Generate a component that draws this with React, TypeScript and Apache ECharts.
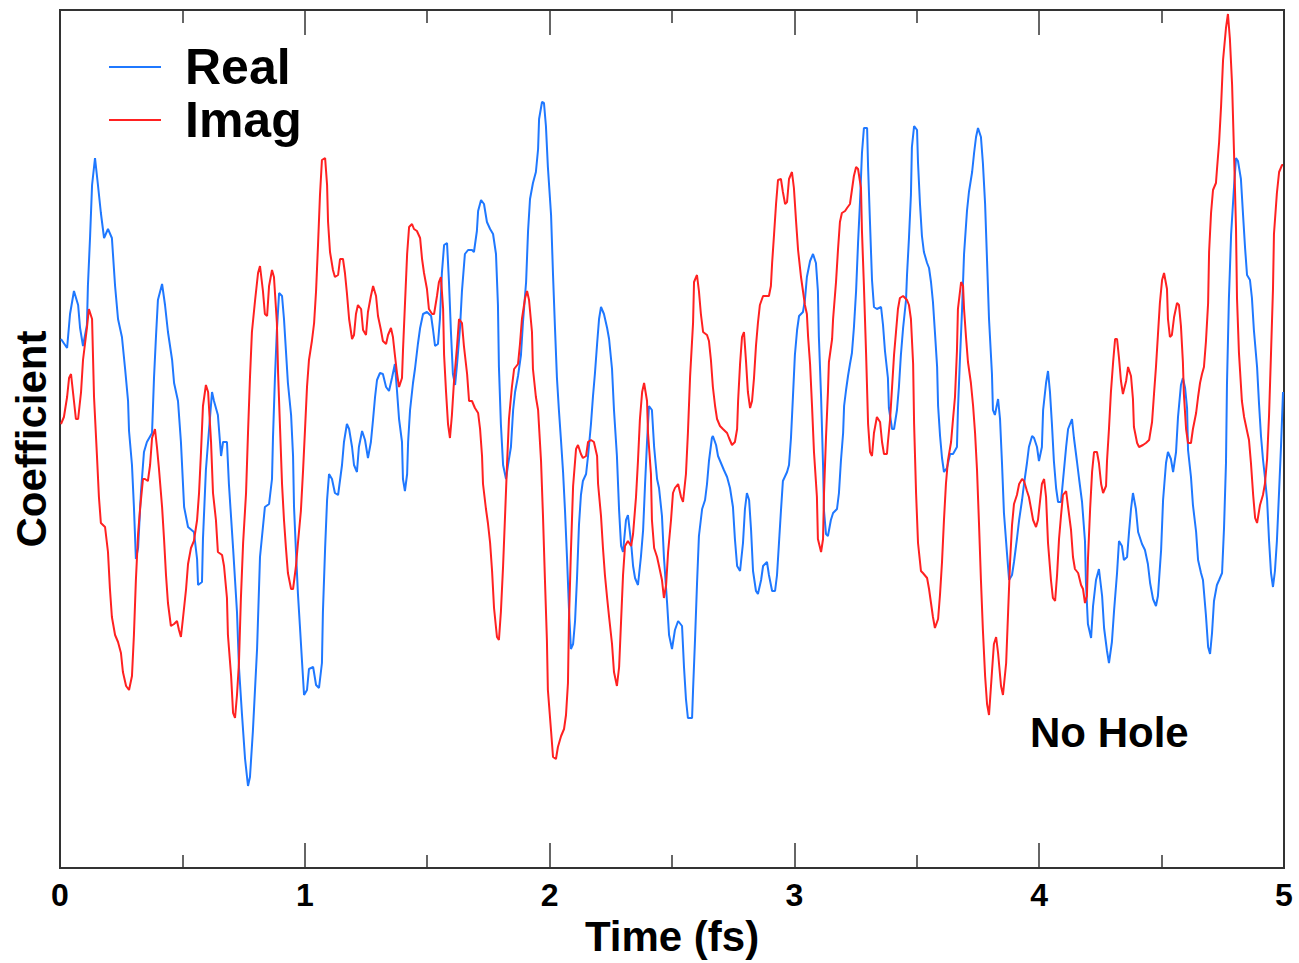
import React, { useEffect, useRef } from "react";
import * as echarts from "echarts";

// Time (fs), coefficient (arbitrary units)
const realPoints: [number, number][] = [
  [0.004,1.01],[0.029,0.92],[0.041,1.26],[0.057,1.49],[0.074,1.35],[0.082,1.12],[0.094,0.94],[0.110,1.15],[0.114,1.54],[0.123,2.04],
  [0.131,2.55],[0.143,2.82],[0.155,2.55],[0.167,2.27],[0.180,2.02],[0.196,2.11],[0.212,2.02],[0.225,1.54],[0.237,1.21],[0.253,1.03],
  [0.266,0.71],[0.278,0.39],[0.282,0.09],[0.294,-0.25],[0.302,-0.67],[0.310,-1.19],[0.319,-1.08],[0.331,-0.51],[0.343,-0.12],[0.355,-0.02],
  [0.376,0.07],[0.384,0.62],[0.392,1.03],[0.400,1.40],[0.417,1.56],[0.429,1.35],[0.441,1.08],[0.458,0.80],[0.466,0.57],[0.482,0.39],
  [0.494,-0.02],[0.507,-0.67],[0.523,-0.87],[0.547,-0.92],[0.560,-1.19],[0.564,-1.45],[0.580,-1.42],[0.584,-0.99],[0.596,-0.30],[0.609,0.11],
  [0.621,0.48],[0.629,0.39],[0.645,0.25],[0.658,-0.16],[0.666,-0.02],[0.682,-0.02],[0.690,-0.44],[0.707,-1.08],[0.723,-1.72],[0.731,-2.27],
  [0.743,-2.73],[0.756,-3.19],[0.768,-3.46],[0.776,-3.37],[0.788,-2.91],[0.805,-2.09],[0.817,-1.17],[0.837,-0.67],[0.854,-0.64],[0.866,-0.39],
  [0.870,0.02],[0.878,0.62],[0.886,1.10],[0.895,1.47],[0.907,1.44],[0.915,1.21],[0.923,0.89],[0.931,0.57],[0.944,0.25],[0.952,-0.16],
  [0.956,-0.67],[0.964,-1.12],[0.972,-1.54],[0.980,-1.86],[0.989,-2.23],[0.997,-2.55],[1.009,-2.50],[1.017,-2.29],[1.034,-2.27],[1.046,-2.45],
  [1.058,-2.48],[1.070,-2.23],[1.074,-1.72],[1.083,-1.08],[1.091,-0.60],[1.099,-0.34],[1.111,-0.39],[1.123,-0.53],[1.136,-0.55],[1.152,-0.25],
  [1.160,-0.02],[1.172,0.16],[1.181,0.11],[1.193,-0.07],[1.201,-0.25],[1.213,-0.32],[1.221,-0.07],[1.234,0.09],[1.246,0.00],[1.258,-0.18],
  [1.270,-0.02],[1.279,0.21],[1.287,0.43],[1.295,0.60],[1.307,0.67],[1.319,0.66],[1.332,0.53],[1.344,0.49],[1.356,0.62],[1.368,0.76],
  [1.377,0.48],[1.385,0.21],[1.397,-0.02],[1.401,-0.39],[1.409,-0.51],[1.418,-0.34],[1.422,-0.02],[1.430,0.30],[1.442,0.57],[1.450,0.71],
  [1.462,0.96],[1.471,1.12],[1.483,1.26],[1.499,1.28],[1.516,1.24],[1.524,1.10],[1.532,0.94],[1.544,0.96],[1.552,1.21],[1.560,1.67],
  [1.569,1.95],[1.581,1.97],[1.589,1.58],[1.597,1.08],[1.605,0.66],[1.614,0.55],[1.622,0.76],[1.634,1.12],[1.642,1.49],[1.654,1.86],
  [1.667,1.90],[1.683,1.90],[1.691,1.88],[1.703,2.09],[1.708,2.29],[1.720,2.40],[1.732,2.36],[1.744,2.18],[1.757,2.11],[1.769,2.06],
  [1.781,1.86],[1.789,1.35],[1.793,0.73],[1.801,0.16],[1.810,-0.25],[1.822,-0.39],[1.830,-0.25],[1.842,-0.07],[1.851,0.30],[1.859,0.48],
  [1.871,0.64],[1.883,0.85],[1.891,1.17],[1.904,1.58],[1.912,2.09],[1.920,2.41],[1.932,2.57],[1.944,2.68],[1.953,2.91],[1.957,3.21],
  [1.969,3.38],[1.977,3.37],[1.985,3.14],[1.993,2.73],[2.006,2.25],[2.014,1.65],[2.022,1.12],[2.030,0.62],[2.038,0.30],[2.047,-0.02],
  [2.055,-0.32],[2.063,-0.71],[2.071,-1.17],[2.079,-1.68],[2.087,-2.09],[2.096,-2.04],[2.104,-1.81],[2.112,-1.38],[2.120,-0.85],[2.128,-0.55],
  [2.136,-0.41],[2.149,-0.34],[2.157,-0.16],[2.169,0.16],[2.177,0.43],[2.185,0.66],[2.194,0.96],[2.202,1.21],[2.210,1.33],[2.222,1.26],
  [2.235,1.12],[2.243,1.01],[2.255,0.71],[2.263,0.30],[2.275,-0.16],[2.284,-0.71],[2.292,-1.06],[2.300,-1.12],[2.312,-0.80],[2.320,-0.75],
  [2.333,-1.03],[2.341,-1.26],[2.349,-1.38],[2.361,-1.45],[2.373,-1.17],[2.382,-0.90],[2.390,-0.44],[2.398,-0.02],[2.406,0.34],[2.418,0.30],
  [2.427,-0.07],[2.439,-0.39],[2.447,-0.48],[2.459,-0.76],[2.467,-1.17],[2.480,-1.63],[2.488,-1.95],[2.500,-2.09],[2.512,-1.90],[2.525,-1.81],
  [2.541,-1.86],[2.549,-2.27],[2.557,-2.59],[2.565,-2.78],[2.582,-2.78],[2.586,-2.50],[2.594,-2.00],[2.602,-1.45],[2.610,-0.96],[2.623,-0.69],
  [2.635,-0.60],[2.643,-0.44],[2.651,-0.21],[2.663,0.02],[2.667,0.04],[2.680,-0.05],[2.688,-0.16],[2.700,-0.23],[2.712,-0.30],[2.725,-0.37],
  [2.737,-0.48],[2.749,-0.67],[2.757,-0.99],[2.766,-1.26],[2.778,-1.31],[2.790,-1.03],[2.798,-0.69],[2.806,-0.53],[2.815,-0.60],[2.823,-0.90],
  [2.831,-1.31],[2.843,-1.51],[2.851,-1.54],[2.864,-1.40],[2.872,-1.26],[2.888,-1.22],[2.896,-1.35],[2.909,-1.51],[2.921,-1.51],[2.929,-1.35],
  [2.937,-1.03],[2.945,-0.71],[2.953,-0.41],[2.970,-0.32],[2.978,-0.25],[2.986,0.02],[2.994,0.43],[3.002,0.85],[3.011,1.10],[3.019,1.24],
  [3.035,1.28],[3.043,1.40],[3.051,1.63],[3.064,1.79],[3.076,1.86],[3.088,1.77],[3.096,1.49],[3.100,1.03],[3.109,0.43],[3.117,-0.25],
  [3.121,-0.71],[3.129,-0.94],[3.137,-0.96],[3.149,-0.80],[3.158,-0.73],[3.174,-0.69],[3.182,-0.53],[3.190,-0.21],[3.199,0.07],[3.203,0.34],
  [3.211,0.50],[3.219,0.64],[3.227,0.76],[3.235,0.87],[3.243,1.12],[3.252,1.49],[3.260,1.97],[3.268,2.38],[3.276,2.87],[3.284,3.12],
  [3.297,3.12],[3.301,2.73],[3.309,2.16],[3.317,1.60],[3.325,1.33],[3.337,1.31],[3.354,1.33],[3.362,1.15],[3.370,0.89],[3.382,0.62],
  [3.386,0.32],[3.399,0.11],[3.407,0.11],[3.419,0.30],[3.427,0.53],[3.435,0.85],[3.444,1.12],[3.456,1.40],[3.460,1.65],[3.468,2.02],
  [3.476,2.45],[3.480,2.93],[3.489,3.14],[3.501,3.10],[3.505,2.77],[3.513,2.36],[3.521,2.04],[3.529,1.88],[3.542,1.77],[3.550,1.72],
  [3.558,1.58],[3.566,1.38],[3.574,1.08],[3.583,0.73],[3.587,0.34],[3.595,0.04],[3.603,-0.18],[3.611,-0.32],[3.623,-0.28],[3.636,-0.14],
  [3.648,-0.14],[3.664,-0.07],[3.668,0.30],[3.677,0.85],[3.685,1.31],[3.693,1.86],[3.705,2.29],[3.713,2.48],[3.726,2.68],[3.734,2.87],
  [3.742,3.03],[3.750,3.12],[3.762,3.03],[3.770,2.77],[3.779,2.36],[3.787,1.79],[3.795,1.21],[3.807,0.66],[3.811,0.30],[3.819,0.25],
  [3.832,0.41],[3.840,0.21],[3.848,-0.23],[3.856,-0.73],[3.868,-1.12],[3.877,-1.40],[3.889,-1.35],[3.897,-1.22],[3.909,-0.99],[3.918,-0.80],
  [3.930,-0.60],[3.938,-0.44],[3.950,-0.23],[3.958,-0.07],[3.971,0.04],[3.979,0.02],[3.991,-0.07],[3.999,-0.21],[4.011,-0.07],[4.016,0.30],
  [4.028,0.57],[4.036,0.69],[4.044,0.48],[4.052,0.16],[4.060,-0.21],[4.069,-0.48],[4.077,-0.62],[4.089,-0.62],[4.097,-0.41],[4.110,-0.07],
  [4.118,0.11],[4.134,0.21],[4.142,0.02],[4.154,-0.21],[4.163,-0.39],[4.175,-0.62],[4.187,-1.01],[4.191,-1.43],[4.199,-1.84],[4.212,-1.98],
  [4.220,-1.66],[4.232,-1.40],[4.244,-1.29],[4.257,-1.56],[4.265,-1.88],[4.277,-2.11],[4.285,-2.23],[4.297,-2.02],[4.306,-1.70],[4.318,-1.33],
  [4.326,-1.01],[4.338,-1.06],[4.346,-1.20],[4.359,-1.17],[4.367,-0.92],[4.375,-0.69],[4.383,-0.53],[4.395,-0.69],[4.404,-0.92],[4.420,-1.04],
  [4.432,-1.10],[4.444,-1.24],[4.453,-1.43],[4.465,-1.59],[4.477,-1.66],[4.485,-1.56],[4.498,-1.10],[4.506,-0.60],[4.518,-0.23],[4.526,-0.12],
  [4.538,-0.19],[4.547,-0.32],[4.559,-0.12],[4.567,0.23],[4.579,0.55],[4.587,0.62],[4.596,0.52],[4.604,0.32],[4.608,-0.10],[4.620,-0.37],
  [4.628,-0.65],[4.641,-0.92],[4.649,-1.20],[4.661,-1.33],[4.669,-1.40],[4.681,-1.75],[4.690,-2.07],[4.698,-2.14],[4.706,-1.93],[4.714,-1.61],
  [4.726,-1.45],[4.735,-1.40],[4.747,-1.33],[4.755,-0.88],[4.763,-0.23],[4.767,0.55],[4.775,1.42],[4.784,2.06],[4.796,2.54],[4.804,2.82],
  [4.812,2.79],[4.824,2.61],[4.833,2.24],[4.841,1.92],[4.849,1.65],[4.861,1.60],[4.869,1.42],[4.877,1.10],[4.890,0.73],[4.898,0.36],
  [4.906,0.04],[4.914,-0.19],[4.922,-0.37],[4.931,-0.60],[4.939,-1.01],[4.947,-1.33],[4.955,-1.47],[4.963,-1.31],[4.971,-1.01],[4.980,-0.51],
  [4.988,-0.05],[4.996,0.48]
];

const imagPoints: [number, number][] = [
  [0.004,0.16],[0.016,0.23],[0.029,0.43],[0.037,0.62],[0.045,0.66],[0.053,0.48],[0.065,0.21],[0.074,0.21],[0.086,0.48],[0.094,0.80],
  [0.110,1.12],[0.118,1.31],[0.131,1.21],[0.139,0.43],[0.151,-0.16],[0.159,-0.57],[0.167,-0.83],[0.184,-0.87],[0.196,-1.12],[0.204,-1.49],
  [0.212,-1.77],[0.225,-1.95],[0.237,-2.02],[0.249,-2.13],[0.257,-2.32],[0.270,-2.46],[0.282,-2.50],[0.294,-2.36],[0.302,-1.95],[0.310,-1.40],
  [0.319,-0.94],[0.327,-0.69],[0.339,-0.39],[0.347,-0.39],[0.359,-0.41],[0.368,-0.25],[0.376,0.02],[0.388,0.11],[0.396,-0.07],[0.404,-0.28],
  [0.417,-0.67],[0.425,-0.99],[0.433,-1.35],[0.441,-1.63],[0.453,-1.86],[0.466,-1.84],[0.478,-1.81],[0.486,-1.90],[0.494,-1.97],[0.502,-1.79],
  [0.515,-1.49],[0.523,-1.24],[0.535,-1.08],[0.547,-1.01],[0.560,-0.80],[0.568,-0.53],[0.576,-0.12],[0.584,0.34],[0.596,0.55],[0.605,0.48],
  [0.617,-0.02],[0.625,-0.53],[0.637,-0.80],[0.645,-1.12],[0.662,-1.15],[0.670,-1.26],[0.682,-1.58],[0.686,-1.95],[0.699,-2.36],[0.707,-2.73],
  [0.715,-2.78],[0.723,-2.55],[0.731,-2.23],[0.739,-1.58],[0.748,-1.03],[0.760,-0.53],[0.768,0.07],[0.776,0.62],[0.784,1.08],[0.797,1.40],
  [0.809,1.67],[0.817,1.74],[0.829,1.49],[0.837,1.26],[0.846,1.24],[0.854,1.54],[0.866,1.70],[0.874,1.63],[0.886,1.17],[0.891,0.66],
  [0.899,0.11],[0.907,-0.44],[0.915,-0.80],[0.923,-1.08],[0.931,-1.33],[0.944,-1.49],[0.952,-1.49],[0.964,-1.26],[0.972,-1.03],[0.984,-0.71],
  [0.993,-0.30],[1.001,0.11],[1.009,0.53],[1.017,0.80],[1.029,0.99],[1.038,1.17],[1.046,1.49],[1.054,1.95],[1.062,2.45],[1.070,2.80],
  [1.083,2.82],[1.091,2.55],[1.095,2.18],[1.103,1.88],[1.115,1.70],[1.123,1.63],[1.136,1.65],[1.144,1.81],[1.156,1.81],[1.164,1.67],
  [1.172,1.47],[1.181,1.21],[1.193,1.01],[1.201,1.05],[1.209,1.26],[1.217,1.35],[1.230,1.31],[1.238,1.10],[1.250,1.05],[1.258,1.28],
  [1.270,1.44],[1.279,1.54],[1.291,1.44],[1.299,1.24],[1.311,1.10],[1.319,0.99],[1.332,0.96],[1.340,1.05],[1.352,1.12],[1.360,1.03],
  [1.368,0.85],[1.377,0.66],[1.385,0.53],[1.397,0.62],[1.401,0.89],[1.409,1.35],[1.418,1.86],[1.426,2.13],[1.438,2.16],[1.446,2.11],
  [1.458,2.09],[1.471,2.02],[1.479,1.81],[1.487,1.67],[1.499,1.51],[1.507,1.31],[1.520,1.26],[1.528,1.26],[1.540,1.44],[1.548,1.58],
  [1.556,1.63],[1.565,1.31],[1.569,0.85],[1.577,0.48],[1.585,0.16],[1.593,0.02],[1.601,0.25],[1.609,0.57],[1.622,0.94],[1.630,1.21],
  [1.642,1.17],[1.650,0.94],[1.663,0.66],[1.671,0.39],[1.683,0.39],[1.695,0.32],[1.708,0.27],[1.716,0.11],[1.724,-0.16],[1.728,-0.44],
  [1.740,-0.69],[1.748,-0.83],[1.757,-1.03],[1.765,-1.31],[1.773,-1.68],[1.785,-1.97],[1.793,-2.00],[1.801,-1.72],[1.810,-1.26],[1.818,-0.76],
  [1.826,-0.25],[1.834,0.21],[1.846,0.53],[1.855,0.71],[1.871,0.76],[1.879,0.96],[1.887,1.21],[1.900,1.42],[1.908,1.49],[1.916,1.40],
  [1.928,1.08],[1.932,0.71],[1.944,0.43],[1.953,0.30],[1.965,-0.21],[1.973,-0.76],[1.981,-1.40],[1.989,-2.00],[1.993,-2.50],[2.006,-2.91],
  [2.014,-3.17],[2.026,-3.19],[2.034,-3.07],[2.047,-2.96],[2.059,-2.89],[2.067,-2.75],[2.075,-2.43],[2.079,-1.81],[2.087,-1.12],[2.096,-0.46],
  [2.108,-0.09],[2.116,-0.05],[2.128,-0.14],[2.136,-0.18],[2.149,-0.16],[2.157,-0.02],[2.169,0.00],[2.181,-0.02],[2.194,-0.16],[2.198,-0.44],
  [2.210,-0.76],[2.218,-1.08],[2.226,-1.35],[2.235,-1.58],[2.243,-1.77],[2.255,-2.04],[2.263,-2.32],[2.275,-2.46],[2.284,-2.27],[2.292,-1.81],
  [2.300,-1.35],[2.308,-1.06],[2.320,-1.01],[2.333,-1.06],[2.341,-0.94],[2.353,-0.57],[2.361,-0.21],[2.369,0.21],[2.378,0.48],[2.386,0.57],
  [2.398,0.39],[2.402,0.07],[2.414,-0.34],[2.418,-0.80],[2.427,-1.08],[2.439,-1.17],[2.447,-1.26],[2.459,-1.40],[2.467,-1.58],[2.476,-1.45],
  [2.484,-1.12],[2.496,-0.80],[2.504,-0.53],[2.512,-0.48],[2.525,-0.44],[2.537,-0.57],[2.545,-0.62],[2.557,-0.34],[2.565,0.07],[2.574,0.64],
  [2.586,1.17],[2.590,1.58],[2.602,1.65],[2.610,1.49],[2.618,1.26],[2.627,1.08],[2.643,1.05],[2.651,0.99],[2.659,0.80],[2.667,0.53],
  [2.676,0.34],[2.684,0.21],[2.696,0.14],[2.708,0.11],[2.725,0.07],[2.733,0.02],[2.745,-0.05],[2.757,-0.02],[2.766,0.11],[2.770,0.39],
  [2.778,0.76],[2.786,1.03],[2.794,1.08],[2.802,0.80],[2.810,0.48],[2.819,0.32],[2.827,0.39],[2.835,0.62],[2.843,0.94],[2.851,1.17],
  [2.859,1.35],[2.872,1.44],[2.884,1.44],[2.896,1.44],[2.904,1.54],[2.909,1.77],[2.917,2.06],[2.925,2.36],[2.933,2.60],[2.945,2.61],
  [2.953,2.48],[2.962,2.36],[2.970,2.38],[2.978,2.61],[2.990,2.68],[2.998,2.52],[3.007,2.18],[3.015,1.90],[3.027,1.63],[3.035,1.49],
  [3.043,1.35],[3.051,1.26],[3.056,1.03],[3.064,0.76],[3.072,0.34],[3.080,-0.12],[3.092,-0.57],[3.096,-0.99],[3.109,-1.12],[3.117,-0.99],
  [3.121,-0.53],[3.129,0.02],[3.137,0.48],[3.141,0.78],[3.154,1.01],[3.158,1.21],[3.170,1.58],[3.178,1.90],[3.186,2.18],[3.194,2.27],
  [3.207,2.29],[3.215,2.32],[3.227,2.36],[3.235,2.50],[3.243,2.64],[3.252,2.73],[3.260,2.71],[3.272,2.52],[3.276,2.09],[3.284,1.54],
  [3.293,0.85],[3.301,0.16],[3.309,-0.12],[3.317,-0.16],[3.325,0.07],[3.337,0.23],[3.350,0.18],[3.358,-0.02],[3.366,-0.14],[3.378,-0.14],
  [3.382,-0.02],[3.391,0.21],[3.399,0.53],[3.407,0.85],[3.415,1.08],[3.423,1.31],[3.431,1.42],[3.444,1.44],[3.460,1.40],[3.468,1.35],
  [3.476,1.21],[3.485,0.76],[3.489,0.16],[3.497,-0.53],[3.505,-1.03],[3.517,-1.31],[3.525,-1.33],[3.542,-1.38],[3.550,-1.49],[3.558,-1.63],
  [3.566,-1.77],[3.574,-1.88],[3.587,-1.79],[3.595,-1.54],[3.603,-1.22],[3.611,-0.80],[3.619,-0.44],[3.627,-0.21],[3.640,-0.02],[3.648,0.21],
  [3.656,0.43],[3.664,0.89],[3.668,1.31],[3.681,1.58],[3.689,1.54],[3.693,1.31],[3.701,1.03],[3.709,0.78],[3.721,0.57],[3.730,0.34],
  [3.738,0.07],[3.746,-0.30],[3.754,-0.83],[3.762,-1.40],[3.770,-1.90],[3.779,-2.36],[3.787,-2.64],[3.795,-2.75],[3.807,-2.32],[3.815,-2.04],
  [3.824,-1.97],[3.832,-2.13],[3.844,-2.46],[3.852,-2.55],[3.865,-2.23],[3.873,-1.72],[3.881,-1.22],[3.889,-0.85],[3.897,-0.64],[3.909,-0.55],
  [3.918,-0.44],[3.930,-0.39],[3.938,-0.41],[3.950,-0.51],[3.958,-0.57],[3.967,-0.69],[3.975,-0.80],[3.987,-0.87],[3.995,-0.80],[4.003,-0.62],
  [4.011,-0.44],[4.020,-0.39],[4.028,-0.57],[4.036,-1.03],[4.048,-1.40],[4.056,-1.58],[4.065,-1.61],[4.073,-1.35],[4.081,-0.99],[4.089,-0.76],
  [4.097,-0.55],[4.110,-0.51],[4.118,-0.67],[4.130,-0.90],[4.138,-1.17],[4.146,-1.29],[4.159,-1.33],[4.171,-1.45],[4.179,-1.49],[4.187,-1.63],
  [4.195,-1.56],[4.199,-1.20],[4.208,-0.69],[4.216,-0.32],[4.224,-0.12],[4.236,-0.12],[4.244,-0.23],[4.253,-0.44],[4.261,-0.53],[4.273,-0.46],
  [4.277,-0.21],[4.285,0.11],[4.293,0.48],[4.302,0.78],[4.310,1.01],[4.318,1.01],[4.326,0.82],[4.334,0.59],[4.342,0.46],[4.355,0.59],
  [4.363,0.73],[4.375,0.64],[4.383,0.41],[4.387,0.13],[4.400,-0.03],[4.408,-0.07],[4.424,-0.05],[4.436,-0.03],[4.449,0.00],[4.461,0.18],
  [4.469,0.46],[4.477,0.73],[4.485,1.05],[4.493,1.37],[4.502,1.60],[4.510,1.67],[4.522,1.51],[4.526,1.21],[4.534,1.03],[4.542,1.05],
  [4.551,1.23],[4.563,1.37],[4.571,1.35],[4.579,1.14],[4.587,0.78],[4.591,0.46],[4.600,0.11],[4.608,-0.03],[4.620,-0.03],[4.628,0.11],
  [4.641,0.27],[4.649,0.43],[4.657,0.57],[4.665,0.66],[4.673,0.73],[4.681,0.98],[4.690,1.37],[4.694,1.88],[4.702,2.27],[4.710,2.50],
  [4.722,2.57],[4.726,2.70],[4.735,2.98],[4.743,3.34],[4.751,3.80],[4.763,4.12],[4.771,4.26],[4.779,4.01],[4.788,3.55],[4.796,2.86],
  [4.804,2.11],[4.808,1.42],[4.816,0.87],[4.828,0.39],[4.837,0.23],[4.849,0.09],[4.857,0.00],[4.865,-0.23],[4.874,-0.55],[4.882,-0.78],
  [4.890,-0.83],[4.902,-0.65],[4.914,-0.55],[4.922,-0.44],[4.931,-0.19],[4.939,0.25],[4.947,0.87],[4.955,1.51],[4.959,2.06],[4.971,2.47],
  [4.980,2.68],[4.992,2.75],[4.996,2.75]
];

const seriesNames = ["Real", "Imag"];
const seriesColors = ["#1f78ff", "#ff2121"];
const xTickLabels = ["0", "1", "2", "3", "4", "5"];
const annotation = "No Hole";

const FONT = "'Liberation Sans', Arial, Helvetica, sans-serif";

export default function App() {
  const ref = useRef<HTMLDivElement>(null);
  useEffect(() => {
    if (!ref.current) return;
    const chart = echarts.init(ref.current, null, { renderer: "svg" });
    const baseX = {
      type: "value" as const,
      min: 0,
      max: 5,
      interval: 1,
      axisLine: { show: false, onZero: false },
      splitLine: { show: false },
      minorSplitLine: { show: false },
      axisTick: { show: true, inside: true, length: 25, lineStyle: { color: "#333", width: 1.5 } },
      minorTick: { show: true, splitNumber: 2, length: 13, lineStyle: { color: "#333", width: 1.5 } },
    };
    chart.setOption({
      animation: false,
      backgroundColor: "#fff",
      grid: {
        left: 60,
        right: 15,
        top: 10,
        bottom: 95,
        show: true,
        borderColor: "#333",
        borderWidth: 2,
        backgroundColor: "transparent",
      },
      legend: {
        orient: "vertical",
        left: 109,
        top: 42,
        padding: 0,
        itemGap: 3,
        itemWidth: 52,
        itemHeight: 2,
        icon: "rect",
        data: seriesNames,
        textStyle: { fontFamily: FONT, fontWeight: "bold", fontSize: 50, color: "#000", padding: [0, 0, 0, 19] },
      },
      xAxis: [
        {
          ...baseX,
          position: "bottom",
          name: "Time (fs)",
          nameLocation: "middle",
          nameGap: 44,
          nameTextStyle: { fontFamily: FONT, fontWeight: "bold", fontSize: 42, color: "#000" },
          axisLabel: {
            show: true,
            margin: 11,
            fontFamily: FONT,
            fontWeight: "bold",
            fontSize: 32,
            color: "#000",
            formatter: (v: number) => xTickLabels[Math.round(v)] ?? "",
          },
        },
        {
          ...baseX,
          position: "top",
          axisLabel: { show: false },
        },
      ],
      yAxis: {
        type: "value",
        min: -4.28,
        max: 4.3,
        axisLine: { show: false, onZero: false },
        axisTick: { show: false },
        axisLabel: { show: false },
        splitLine: { show: false },
        name: "Coefficient",
        nameLocation: "middle",
        nameGap: 8,
        nameRotate: 90,
        nameTextStyle: { fontFamily: FONT, fontWeight: "bold", fontSize: 42, color: "#000" },
      },
      graphic: [
        {
          type: "text",
          left: 1030,
          top: 711,
          style: { text: annotation, fontFamily: FONT, fontWeight: "bold", fontSize: 42, fill: "#000" },
        },
      ],
      series: [
        {
          name: seriesNames[0],
          type: "line",
          data: realPoints,
          showSymbol: false,
          symbol: "none",
          lineStyle: { color: seriesColors[0], width: 2 },
          itemStyle: { color: seriesColors[0] },
        },
        {
          name: seriesNames[1],
          type: "line",
          data: imagPoints,
          showSymbol: false,
          symbol: "none",
          lineStyle: { color: seriesColors[1], width: 2 },
          itemStyle: { color: seriesColors[1] },
        },
      ],
    });
    return () => chart.dispose();
  }, []);
  return (
    <div
      ref={ref}
      style={{ position: "fixed", left: 0, top: 0, width: 1299, height: 963, background: "#fff" }}
    />
  );
}
